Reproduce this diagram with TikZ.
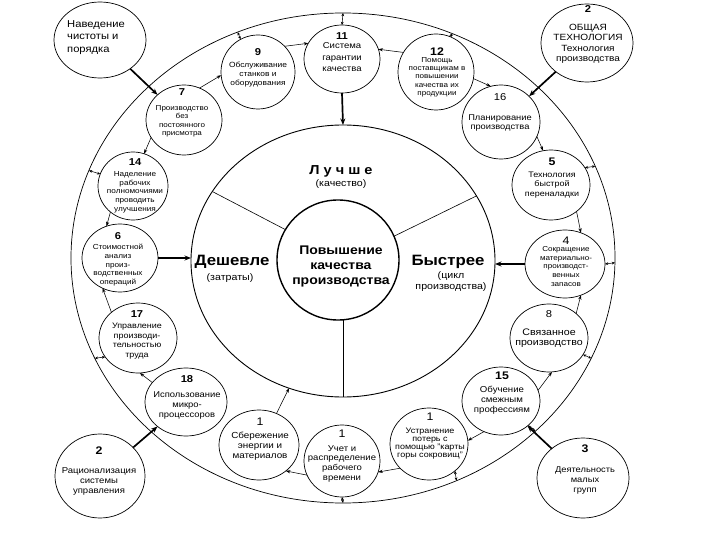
\documentclass[tikz,border=0pt]{standalone}
\usepackage{fontspec}
\setmainfont{Liberation Sans}[FakeStretch=1.12]
\usetikzlibrary{shapes.geometric,arrows.meta}
\newcommand\fsz[2]{\fontsize{#1}{#2}\selectfont}
\newcommand\nb[2][10]{{\bfseries\fontsize{#1}{#1}\selectfont #2}}
\newcommand\nr[2][10]{{\fontsize{#1}{#1}\selectfont #2}}
\tikzset{
  ell/.style={draw, ellipse, fill=white, inner sep=0pt, outer sep=0pt, line width=0.7pt},
  ring/.style={draw, ellipse, inner sep=0pt, outer sep=0pt},
  arr/.style={-{Stealth[length=4.5pt,width=3.2pt]}, line width=0.55pt},
  dbl/.style={{Stealth[length=3.2pt,width=2.8pt]}-{Stealth[length=3.2pt,width=2.8pt]}, line width=0.55pt},
  thk/.style={-{Stealth[length=6.5pt,width=5pt]}, line width=1.7pt},
  lbl/.style={align=center, inner sep=0pt, anchor=north},
  bl/.style={inner sep=0pt, anchor=base}
}
\begin{document}
\begin{tikzpicture}[x=1pt,y=-1pt]
\useasboundingbox (0,0) rectangle (720,540);
\fill[white] (0,0) rectangle (720,540);
% rings
\node[ring, line width=0.7pt, minimum width=544pt, minimum height=490pt] (outer) at (343,258) {};
\node[ring, line width=0.9pt, minimum width=304pt, minimum height=272pt] (mid) at (343,261) {};
\node[ring, fill=white, line width=1.4pt, minimum width=122pt, minimum height=120pt] (core) at (338,260) {};
\draw[line width=0.6pt] (mid.152.6) -- (core.150);
\draw[line width=0.6pt] (mid.26.7) -- (core.23.6);
\draw[line width=0.6pt] (core.south -| mid.south) -- (mid.south);
% outer nodes
\node[ell, minimum width=92pt, minimum height=76pt] (nav) at (100,40) {};
\node[ell, minimum width=92pt, minimum height=78pt] (gen) at (587,43) {};
\node[ell, minimum width=90pt, minimum height=84pt] (rat) at (100,476) {};
\node[ell, minimum width=92pt, minimum height=80pt] (grp) at (583,478) {};
% ring nodes
\node[ell, minimum width=74pt, minimum height=74pt] (n9) at (258,72) {};
\node[ell, minimum width=76pt, minimum height=68pt] (n11) at (342,59) {};
\node[ell, minimum width=76pt, minimum height=76pt] (n12) at (436,72) {};
\node[ell, minimum width=76pt, minimum height=70pt] (n7) at (184,120) {};
\node[ell, minimum width=78pt, minimum height=74pt] (n16) at (501,122) {};
\node[ell, minimum width=70pt, minimum height=68pt] (n14) at (133,186) {};
\node[ell, minimum width=76pt, minimum height=68pt] (n6) at (120,258) {};
\node[ell, minimum width=78pt, minimum height=70pt] (n17) at (138,338) {};
\node[ell, minimum width=82pt, minimum height=68pt] (n18) at (186,402) {};
\node[ell, minimum width=80pt, minimum height=70pt] (nS) at (259,445) {};
\node[ell, minimum width=76pt, minimum height=72pt] (nUch) at (342,461) {};
\node[ell, minimum width=78pt, minimum height=72pt] (nU) at (429,444) {};
\node[ell, minimum width=78pt, minimum height=68pt] (n15) at (501,401) {};
\node[ell, minimum width=78pt, minimum height=68pt] (n8) at (549,338) {};
\node[ell, minimum width=80pt, minimum height=68pt] (n4) at (565,264) {};
\node[ell, minimum width=78pt, minimum height=70pt] (n5) at (551,185) {};
% thick arrows
\draw[thk] (nav) -- (n7);
\draw[thk] (gen) -- (n16);
\draw[thk] (rat) -- (n18);
\draw[thk] (grp) -- (n15);
\draw[thk] (n11.south) -- (mid.north);
\draw[thk] (n6.east) -- (n6.east -| mid.west);
\draw[thk] (n4.west) -- (n4.west -| mid.east);
% chain arrows
\draw[arr] (n7.64) -- (n9.185);
\draw[arr] (n9.44) -- (n11.155);
\draw[arr] (n12.149) -- (n11.15);
\draw[arr] (n12.-10) -- (n16.106);
\draw[arr] (n16.-22) -- (n5.103);
\draw[arr] (n5.-46) -- (n4.63);
\draw[arr] (n8.42) -- (n4.-63);
\draw[arr] (n15.16) -- (n8.-85);
\draw[arr] (n15.-119) -- (nU.5);
\draw[arr] (nU.-140) -- (nUch.-17);
\draw[arr] (nUch.-158) -- (nS.-44);
\draw[arr] (nS.61) -- (mid.-113);
\draw[arr] (n18.150) -- (n17.-87);
\draw[arr] (n17.136) -- (n6.-120);
\draw[arr] (n14.-131) -- (n6.113);
\draw[arr] (n7.-152) -- (n14.71);
% links to outer ring
\draw[dbl] (outer.115) -- (n9.118);
\draw[dbl] (outer.90) -- (n11.90);
\draw[dbl] (outer.64.6) -- (n12.68.4);
\draw[dbl] (outer.20.3) -- (n5.27.9);
\draw[dbl] (outer.-1.3) -- (n4.0);
\draw[dbl] (outer.-22.9) -- (n8.-26.2);
\draw[dbl] (outer.-42) -- (n15.-42);
\draw[dbl] (outer.-63.3) -- (nU.-46);
\draw[dbl] (outer.-90) -- (nUch.-90);
\draw[dbl] (outer.202) -- (n17.210);
\draw[dbl] (outer.161.6) -- (n14.160);
% texts of ring nodes
\node[lbl, font=\fsz{7.5}{9}] (t9) at (258,48) {\nb{9}\\[3.3pt]Обслуживание\\станков и\\оборудования};
\node[lbl, font=\fsz{8.5}{11.5}] (t11) at (342,32) {\nb{11}\\[-2pt]Система\\гарантии\\качества};
\node[lbl, font=\fsz{7.2}{8.3}] (t12) at (437,48) {\nb[11]{12}\\[-1.8pt]Помощь\\поставщикам в\\повышении\\качества их\\продукции};
\node[lbl, font=\fsz{7.2}{8.4}] (t7) at (182,88) {\nb{7}\\[6.9pt]Производство\\без\\постоянного\\присмотра};
\node[lbl, font=\fsz{8.3}{9.5}] (t16) at (500,93) {\nr{16}\\[10.8pt]Планирование\\производства};
\node[lbl, font=\fsz{7.3}{8.7}] (t14) at (135,158) {\nb{14}\\[2.6pt]Наделение\\рабочих\\полномочиями\\проводить\\улучшения};
\node[lbl, font=\fsz{7.3}{8.8}] (t6) at (118,232) {\nb{6}\\[1.5pt]Стоимостной\\анализ\\произ-\\водственных\\операций};
\node[lbl, font=\fsz{8}{9.7}] (t17) at (137,310) {\nb{17}\\[1.6pt]Управление\\производи-\\тельностью\\труда};
\node[lbl, font=\fsz{8.4}{10}] (t18) at (187,375) {\nb{18}\\[5.3pt]Использование\\микро-\\процессоров};
\node[lbl, font=\fsz{8.8}{10}] (tS) at (260,418) {\nr[11]{1}\\[2.5pt]Сбережение\\энергии и\\материалов};
\node[lbl, font=\fsz{8.5}{9.7}] (tUch) at (342,430) {\nr[11]{1}\\[3.8pt]Учет и\\распределение\\рабочего\\времени};
\node[lbl, font=\fsz{8}{8.2}] (tU) at (430,413) {\nr[11]{1}\\[4.3pt]Устранение\\потерь с\\помощью "карты\\горы сокровищ"};
\node[lbl, font=\fsz{8.6}{10}] (t15) at (502,372) {\nb[11]{15}\\[2.5pt]Обучение\\смежным\\профессиям};
\node[lbl, font=\fsz{9.5}{10}] (t8) at (549,310) {\nr{8}\\[8.5pt]Связанное\\производство};
\node[lbl, font=\fsz{7.2}{8.8}] (t4) at (566,237) {\nr[11]{4}\\[-2.3pt]Сокращение\\материально-\\производст-\\венных\\запасов};
\node[lbl, font=\fsz{8}{9.5}] (t5) at (552,158) {\nb[11]{5}\\[2pt]Технология\\быстрой\\переналадки};
% texts of outer nodes
\node[lbl, font=\fsz{9}{10.5}] (tgen) at (588,5) {\nb{2}\\[7.6pt]ОБЩАЯ\\ТЕХНОЛОГИЯ\\Технология\\производства};
\node[lbl, font=\fsz{8.5}{10}] (trat) at (99,447) {\nb[11]{2}\\[8.5pt]Рационализация\\системы\\управления};
\node[lbl, font=\fsz{8.3}{10}] (tgrp) at (585,445) {\nb[11]{3}\\[9.5pt]Деятельность\\малых\\групп};
\node[align=left, inner sep=0pt, anchor=north west, font=\fsz{10}{12.5}] (tnav) at (67,20) {Наведение\\чистоты и\\порядка};
% central texts
\node[lbl, font=\bfseries\fsz{12.5}{15}] (tcore) at (341,246) {Повышение\\качества\\производства};
\node[bl, font=\bfseries\fsz{13}{15}] (tbet) at (341,175) {Л у ч ш е};
\node[bl, font=\fsz{9.5}{11}] (tq) at (341,187) {(качество)};
\node[bl, font=\bfseries\fsz{15}{17}] (tch) at (232,265) {Дешевле};
\node[bl, font=\fsz{9.5}{11}] (tz) at (230,280) {(затраты)};
\node[bl, font=\bfseries\fsz{15}{17}] (tfast) at (448,265) {Быстрее};
\node[lbl, font=\fsz{9.5}{11}] (tcy) at (451,271) {(цикл\\производства)};
\end{tikzpicture}
\end{document}
